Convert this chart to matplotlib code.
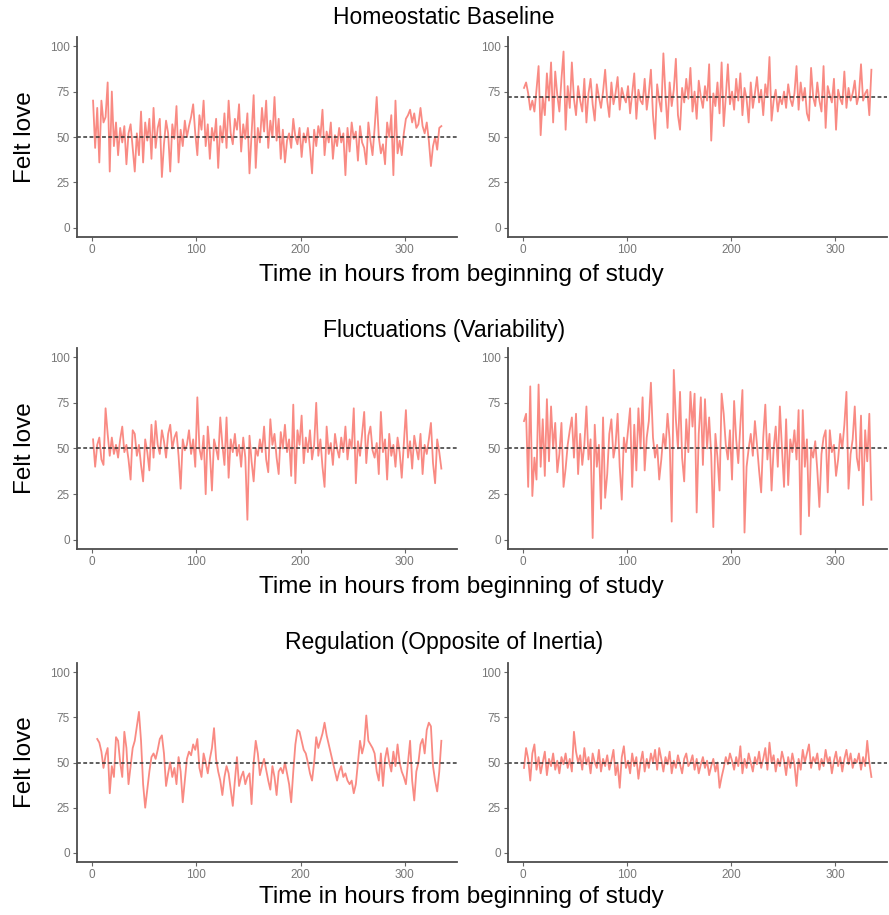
import matplotlib.pyplot as plt

# hours of each observation
hours = list(range(1, 336, 2))
hours_reg = list(range(5, 336, 2))

# Homeostatic baseline
base_low = [70, 44, 66, 36, 70, 58, 61, 80, 31, 75,
            45, 58, 40, 55, 47, 56, 35, 52, 57, 44,
            31, 52, 40, 64, 36, 58, 48, 60, 38, 66,
            44, 55, 60, 28, 46, 59, 52, 31, 57, 49,
            67, 36, 54, 45, 59, 50, 56, 61, 68, 52,
            40, 62, 54, 70, 45, 57, 38, 55, 48, 60,
            33, 56, 47, 63, 44, 70, 52, 46, 60, 54,
            68, 42, 57, 49, 63, 30, 52, 73, 33, 55,
            47, 66, 53, 70, 44, 59, 50, 72, 48, 60,
            38, 54, 36, 48, 52, 44, 60, 50, 46, 55,
            39, 52, 47, 55, 44, 30, 54, 45, 56, 50,
            65, 40, 53, 47, 58, 38, 51, 45, 55, 47,
            52, 29, 55, 42, 58, 49, 53, 37, 56, 47,
            44, 35, 58, 48, 40, 55, 72, 50, 41, 46,
            35, 58, 50, 62, 29, 70, 41, 48, 40, 52,
            60, 62, 65, 58, 63, 55, 57, 66, 56, 52,
            58, 48, 34, 45, 50, 43, 55, 56]
base_high = [77, 80, 74, 65, 70, 64, 76, 89, 51, 72,
             62, 85, 70, 91, 58, 86, 73, 64, 82, 97,
             54, 78, 66, 91, 71, 62, 78, 70, 64, 82,
             58, 74, 82, 68, 59, 79, 72, 66, 75, 87,
             70, 61, 80, 68, 74, 83, 65, 77, 72, 69,
             78, 63, 74, 85, 60, 76, 70, 68, 82, 65,
             74, 87, 62, 49, 79, 70, 64, 96, 73, 55,
             80, 67, 76, 93, 62, 54, 77, 69, 82, 71,
             88, 64, 75, 60, 81, 72, 66, 78, 70, 90,
             48, 74, 67, 80, 63, 91, 56, 72, 90, 68,
             75, 65, 82, 70, 85, 62, 77, 71, 58, 80,
             66, 74, 83, 69, 76, 62, 79, 72, 94, 59,
             70, 76, 64, 72, 68, 75, 66, 79, 71, 67,
             74, 89, 65, 80, 70, 77, 63, 59, 88, 72,
             67, 80, 70, 64, 89, 55, 78, 73, 69, 82,
             54, 76, 71, 68, 86, 66, 77, 70, 74, 81,
             68, 73, 90, 70, 74, 76, 62, 87]

# Fluctuations
fluct_low = [55, 40, 52, 56, 44, 41, 72, 58, 46, 56,
             47, 52, 45, 55, 62, 48, 52, 44, 33, 60,
             58, 46, 52, 41, 32, 55, 48, 38, 63, 45,
             65, 52, 47, 60, 54, 45, 58, 63, 50, 56,
             59, 46, 28, 55, 49, 52, 60, 47, 55, 40,
             78, 50, 44, 57, 25, 62, 48, 27, 55, 50,
             44, 67, 52, 41, 67, 34, 55, 48, 58, 46,
             52, 40, 56, 45, 11, 57, 43, 32, 50, 46,
             55, 48, 62, 44, 37, 66, 52, 58, 45, 36,
             59, 50, 63, 48, 55, 35, 74, 31, 60, 52,
             68, 42, 56, 48, 60, 44, 52, 75, 46, 55,
             40, 29, 62, 47, 53, 41, 58, 50, 45, 56,
             48, 62, 44, 55, 50, 72, 31, 54, 46, 58,
             70, 42, 57, 62, 49, 45, 53, 36, 70, 48,
             55, 33, 58, 46, 52, 40, 56, 48, 34, 53,
             71, 45, 54, 39, 57, 50, 44, 58, 36, 52,
             47, 55, 64, 42, 31, 55, 48, 39]
fluct_high = [65, 69, 29, 84, 24, 45, 33, 85, 40, 66,
              35, 77, 43, 73, 50, 64, 37, 47, 64, 29,
              39, 52, 60, 67, 45, 69, 36, 58, 41, 52,
              73, 44, 55, 1, 63, 40, 52, 17, 67, 23,
              36, 58, 66, 45, 52, 69, 40, 22, 56, 48,
              60, 72, 29, 63, 38, 72, 50, 78, 38, 56,
              65, 86, 56, 45, 52, 33, 44, 58, 50, 69,
              55, 10, 93, 66, 50, 81, 45, 32, 66, 48,
              81, 62, 80, 15, 58, 78, 41, 77, 50, 67,
              46, 7, 58, 45, 27, 80, 69, 52, 44, 60,
              33, 76, 55, 42, 63, 82, 4, 40, 50, 58,
              46, 65, 52, 38, 26, 56, 74, 44, 58, 27,
              50, 62, 40, 73, 50, 29, 66, 30, 55, 48,
              60, 44, 71, 3, 71, 40, 55, 13, 50, 45,
              54, 38, 18, 47, 56, 60, 26, 60, 48, 52,
              35, 44, 58, 50, 63, 81, 28, 47, 55, 73,
              45, 38, 68, 19, 60, 43, 69, 22]

# Regulation
reg_low = [63, 61, 56, 47, 54, 58, 33, 48, 42, 64,
           62, 50, 42, 67, 58, 38, 48, 58, 62, 70,
           78, 62, 38, 25, 35, 45, 53, 55, 52, 57,
           63, 65, 55, 37, 44, 50, 42, 47, 38, 53,
           45, 28, 40, 52, 56, 54, 60, 57, 63, 47,
           42, 55, 50, 44, 52, 58, 69, 52, 45, 40,
           32, 42, 48, 44, 35, 26, 40, 53, 37, 42,
           45, 38, 42, 44, 27, 50, 62, 55, 43, 48,
           52, 46, 40, 35, 48, 42, 32, 45, 47, 44,
           50, 44, 38, 28, 45, 60, 68, 67, 62, 57,
           55, 50, 44, 40, 50, 64, 58, 62, 66, 72,
           65, 60, 55, 50, 45, 40, 45, 48, 42, 44,
           40, 38, 40, 33, 38, 50, 62, 55, 60, 76,
           62, 60, 58, 55, 45, 40, 55, 37, 52, 58,
           50, 45, 56, 48, 60, 50, 45, 42, 38, 50,
           62, 40, 29, 45, 50, 60, 63, 55, 68, 72,
           70, 48, 40, 34, 45, 62]
reg_high = [47, 58, 52, 40, 55, 60, 46, 53, 44, 50,
            56, 43, 52, 48, 55, 46, 51, 44, 53, 49,
            55, 47, 52, 45, 67, 56, 50, 54, 46, 58,
            49, 53, 44, 55, 50, 47, 57, 45, 52, 48,
            54, 46, 51, 57, 43, 49, 36, 53, 59, 47,
            51, 44, 55, 48, 53, 41, 50, 56, 45, 52,
            47, 55, 50, 57, 46, 58, 52, 45, 53, 49,
            56, 44, 51, 47, 54, 49, 44, 52, 55, 48,
            50, 54, 46, 52, 44, 49, 53, 47, 51, 43,
            48, 52, 45, 50, 36, 42, 47, 53, 49, 55,
            51, 46, 53, 48, 59, 44, 52, 47, 55, 50,
            45, 53, 49, 56, 47, 52, 58, 46, 61, 50,
            54, 45, 52, 48, 56, 51, 43, 53, 47, 55,
            49, 37, 52, 46, 57, 50, 55, 60, 47, 53,
            50, 55, 46, 52, 48, 57, 50, 53, 44, 51,
            56, 48, 53, 45, 52, 57, 49, 55, 47, 52,
            50, 55, 46, 53, 48, 62, 50, 42]

row_titles = ["Homeostatic Baseline", "Fluctuations (Variability)",
              "Regulation (Opposite of Inertia)"]
panels = [
    [(hours, base_low, 50), (hours, base_high, 72)],
    [(hours, fluct_low, 50), (hours, fluct_high, 50)],
    [(hours_reg, reg_low, 50), (hours, reg_high, 50)],
]

W, H = 889, 915
fig = plt.figure(figsize=(W / 100, H / 100), dpi=100)
plt.rcParams['font.family'] = ['Liberation Sans', 'DejaVu Sans']

col_px = [(77, 380), (508, 379)]
row_px = [(37, 237), (348, 549), (663, 862)]
title_y = [18, 330, 642]
xlab_y = [275, 587, 897]

for r, row in enumerate(panels):
    top, bot = row_px[r]
    for c, (x, y, mean) in enumerate(row):
        left, width = col_px[c]
        ax = fig.add_axes([left / W, (H - bot) / H, width / W, (bot - top) / H])
        ax.plot(x, y, color='#F8766D', lw=1.3, alpha=0.85)
        ax.axhline(mean, color='#333333', lw=1.1, linestyle=(0, (2.5, 1.6)))
        ax.set_xlim(-14.4, 350)
        ax.set_ylim(-5, 105)
        ax.set_xticks([0, 100, 200, 300])
        ax.set_yticks([0, 25, 50, 75, 100])
        for s in ['top', 'right']:
            ax.spines[s].set_visible(False)
        for s in ['left', 'bottom']:
            ax.spines[s].set_color('#4d4d4d')
            ax.spines[s].set_linewidth(1.3)
        ax.tick_params(length=3, width=0.8, color='#666666',
                       labelcolor='#777777', labelsize=8.5, pad=2)
        if c == 0:
            fig.text(25 / W, 1 - (top + bot) / 2 / H, "Felt love",
                     rotation=90, ha='center', va='center', fontsize=17.5)
    fig.text(444 / W, 1 - title_y[r] / H, row_titles[r],
             ha='center', va='center', fontsize=16.5)
    fig.text(461 / W, 1 - xlab_y[r] / H, "Time in hours from beginning of study",
             ha='center', va='center', fontsize=17.5)

fig.savefig('out.png', dpi=100)
